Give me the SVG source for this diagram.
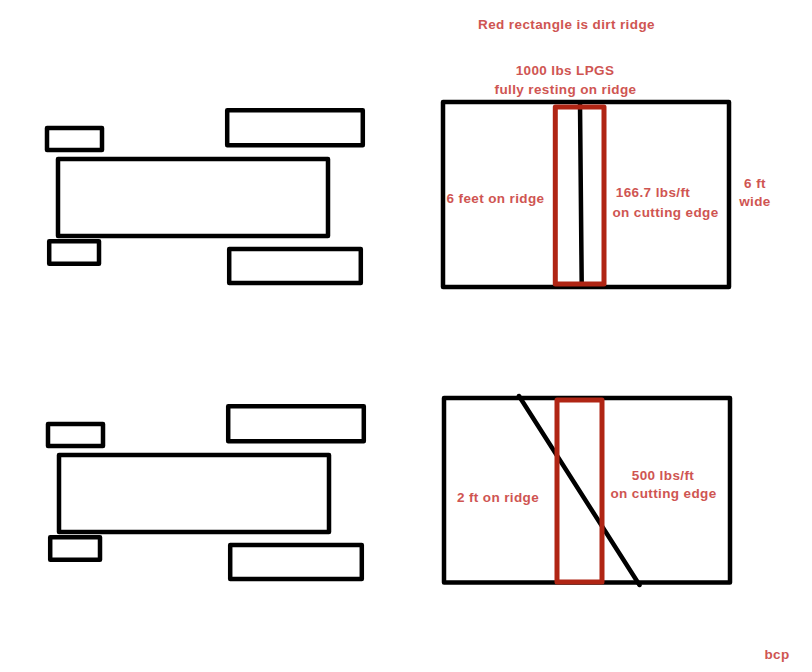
<svg xmlns="http://www.w3.org/2000/svg" width="812" height="672" viewBox="0 0 812 672">
<style>
.k{fill:none;stroke:#000;stroke-width:4.5;stroke-linejoin:round}
.r{fill:none;stroke:#b02514;stroke-width:5;stroke-linejoin:round}
.l{fill:none;stroke:#000;stroke-width:4.5;stroke-linecap:round}
text{font-family:"Liberation Sans",Arial,sans-serif;font-size:13.5px;font-weight:700;fill:#cf5552;text-anchor:middle;letter-spacing:.38px}
</style>
<rect width="812" height="672" fill="#fff"/>
<g id="tractor-top">
<rect class="k" x="47" y="128" width="55" height="22"/>
<rect class="k" x="227.2" y="110.2" width="135.6" height="35"/>
<rect class="k" x="58" y="159" width="270" height="77"/>
<rect class="k" x="49.2" y="241.2" width="49.8" height="22.6"/>
<rect class="k" x="229.2" y="249" width="131.6" height="34"/>
</g>
<g id="tractor-bottom">
<rect class="k" x="48" y="424" width="55" height="22"/>
<rect class="k" x="228.2" y="406.2" width="135.6" height="35"/>
<rect class="k" x="59" y="455" width="270" height="77"/>
<rect class="k" x="50.2" y="537.2" width="49.8" height="22.6"/>
<rect class="k" x="230.2" y="545" width="131.6" height="34"/>
</g>
<g id="blade-top">
<rect class="k" x="443" y="102" width="286" height="185"/>
<path class="l" d="M580 103L581.7 284"/>
<rect class="r" x="555.3" y="107" width="48.7" height="177"/>
</g>
<g id="blade-bottom">
<rect class="k" x="444" y="398" width="286" height="184.5"/>
<path class="l" d="M519 396L639.5 585"/>
<rect class="r" x="557" y="400" width="45" height="182"/>
</g>
<g id="labels">
<text x="566.500" y="29">Red rectangle is dirt ridge</text>
<text x="565" y="75">1000 lbs LPGS</text>
<text x="565.500" y="94">fully resting on ridge</text>
<text x="495.500" y="203">6 feet on ridge</text>
<text x="653" y="197">166.7 lbs/ft</text>
<text x="665.500" y="217">on cutting edge</text>
<text x="755" y="188">6 ft</text>
<text x="755" y="206">wide</text>
<text x="498" y="502">2 ft on ridge</text>
<text x="663" y="480">500 lbs/ft</text>
<text x="663.500" y="498">on cutting edge</text>
<text x="777" y="659">bcp</text>
</g>
</svg>
